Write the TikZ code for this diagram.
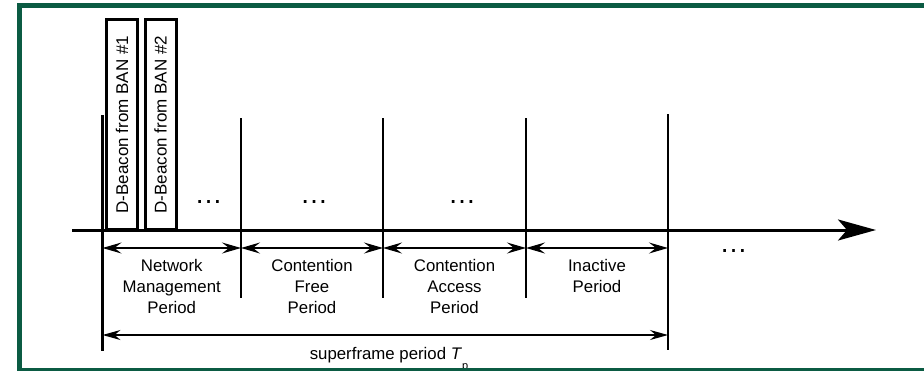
\documentclass[tikz,border=0pt]{standalone}
\usepackage{fontspec}
\setmainfont{Liberation Sans}
\usepackage{tikz}
\usetikzlibrary{arrows.meta,positioning,calc}
\definecolor{framegreen}{HTML}{0B5B43}
\tikzset{
  beacon/.style   = {draw,line width=3pt,rotate=90,minimum width=210pt,
                     minimum height=31pt,inner sep=0pt,
                     font=\fontsize{17}{20}\selectfont},
  prdlbl/.style   = {align=center,anchor=north,inner sep=0pt,
                     font=\fontsize{16.8}{21}\selectfont},
  dotsl/.style    = {anchor=base,inner sep=0pt,font=\fontsize{28}{30}\selectfont},
  divline/.style  = {line width=1.4pt},
  boldline/.style = {line width=2.7pt},
  timeaxis/.style = {-{Stealth[length=38pt,width=21pt,inset=9pt]},line width=3pt},
  span/.style     = {{Stealth[length=19pt,width=11pt,inset=7pt]}-{Stealth[length=19pt,width=11pt,inset=7pt]},
                     line width=1.3pt},
  spanlong/.style = {{Stealth[length=18pt,width=10pt,inset=6pt]}-{Stealth[length=18pt,width=10pt,inset=6pt]},
                     line width=1.3pt},
}

\begin{document}
\begin{tikzpicture}[x=1pt,y=-1pt]
  \useasboundingbox (0,0) rectangle (924,370);

  % period boundaries on the time axis
  \foreach \i/\x in {0/102.5,1/241,2/383,3/526,4/668} {
     \coordinate (p\i) at (\x,230);
     \coordinate (a\i) at (\x,248);
  }
  \coordinate (axstart) at (72,230);
  \coordinate (axend) at (876,230);
  \coordinate (s0) at (102.5,335);
  \coordinate (s1) at (668,335);

  \draw[timeaxis] (axstart) -- (axend);
  \draw[boldline] (p0) ++(0,-115) -- ++(0,236);
  \draw[boldline] (p4) ++(0,-116) -- ++(0,236);
  \foreach \n in {p1,p2,p3}
     \draw[divline] (\n) ++(0,-112) -- ++(0,180);

  % beacons at the start of the superframe
  \node[beacon] (bcn1) at (122,124.75) {D-Beacon from BAN \#1};
  \node[beacon] (bcn2) at (160.5,124.75) {D-Beacon from BAN \#2};

  \node[dotsl] (dots1) at (208.5,203.5) {…};
  \node[dotsl] (dots2) at (314,203.5) {…};
  \node[dotsl] (dots3) at (462,203.5) {…};
  \node[dotsl] (dots4) at (733.5,252.5) {…};

  % period lengths
  \foreach \a/\b in {a0/a1,a1/a2,a2/a3,a3/a4}
     \draw[span] (\a) -- (\b);
  \node[prdlbl] (nmp) at ($(a0)!0.5!(a1)+(0,11.5)$) {Network\\Management\\Period};
  \node[prdlbl] (cfp) at ($(a1)!0.5!(a2)+(0,11.5)$) {Contention\\Free\\Period};
  \node[prdlbl] (cap) at ($(a2)!0.5!(a3)+(0,11.5)$) {Contention\\Access\\Period};
  \node[prdlbl] (inp) at ($(a3)!0.5!(a4)+(0,11.5)$) {Inactive\\Period};

  \draw[spanlong] (s0) -- (s1);
  \node[anchor=base,inner sep=0pt,font=\fontsize{16.8}{20}\selectfont] (tp)
       at (389,359) {superframe period \textit{T}\raisebox{-10pt}{\fontsize{11}{11}\selectfont p}};

  % frame
  \draw[framegreen,line width=5pt] (19.5,5.5) rectangle (940,370);
\end{tikzpicture}
\end{document}
